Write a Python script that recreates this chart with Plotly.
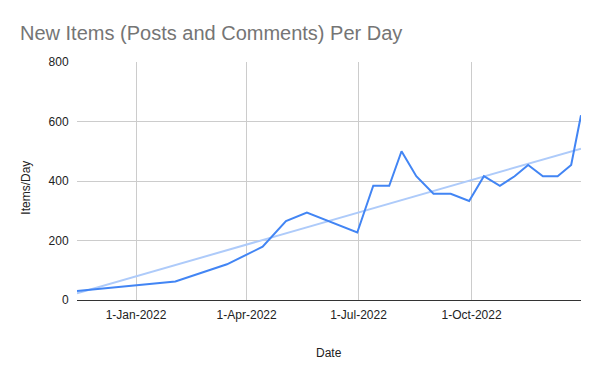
import numpy as np
import pandas as pd
import plotly.graph_objects as go

dates = ["2021-11-14", "2022-01-01", "2022-02-02", "2022-03-16", "2022-04-14",
         "2022-05-03", "2022-05-20", "2022-06-30", "2022-07-13", "2022-07-26",
         "2022-08-05", "2022-08-17", "2022-08-31", "2022-09-14", "2022-09-29",
         "2022-10-11", "2022-10-24", "2022-11-05", "2022-11-16", "2022-11-28",
         "2022-12-10", "2022-12-21", "2022-12-29"]
items_per_day = [30, 50, 62, 120, 179, 265, 294, 227, 384, 384,
                 500, 416, 357, 357, 333, 416, 384, 416, 454, 416,
                 416, 454, 621]
tick_dates = ["2022-01-01", "2022-04-01", "2022-07-01", "2022-10-01"]
y_ticks = [0, 200, 400, 600, 800]

title_text = "New Items (Posts and Comments) Per Day"
x_title = "Date"
y_title = "Items/Day"

dt = pd.to_datetime(dates)
days = (dt - dt[0]).days.values.astype(float)
slope, intercept = np.polyfit(days, np.array(items_per_day, dtype=float), 1)
trend_x = [dt[0], dt[-1]]
trend_y = [intercept, intercept + slope * days[-1]]

FONT = "Arial, 'Liberation Sans', sans-serif"

fig = go.Figure()
fig.add_trace(go.Scatter(x=trend_x, y=trend_y, mode="lines",
                         line=dict(color="#aecbfa", width=2),
                         hoverinfo="skip", showlegend=False))
fig.add_trace(go.Scatter(x=dt, y=items_per_day, mode="lines",
                         line=dict(color="#4285f4", width=2),
                         showlegend=False))

fig.update_layout(
    width=600, height=371,
    margin=dict(l=77, r=19, t=62, b=71),
    paper_bgcolor="white", plot_bgcolor="white",
    font=dict(family=FONT, size=12, color="#222222"),
    title=dict(text=title_text, x=20/600, xref="container", xanchor="left",
               y=1 - 33/371, yref="container", yanchor="middle",
               font=dict(family=FONT, size=20, color="#757575")),
    xaxis=dict(range=[dt[0], dt[-1]], tickvals=pd.to_datetime(tick_dates),
               tickformat="%-d-%b-%Y", showgrid=True, gridcolor="#cccccc",
               gridwidth=1, zeroline=False, showline=True, linecolor="#333333",
               linewidth=1, ticks="outside", ticklen=4, tickcolor="rgba(0,0,0,0)",
               tickfont=dict(size=12, color="#222222")),
    yaxis=dict(range=[0, 800], tickvals=y_ticks, showgrid=True,
               gridcolor="#cccccc", gridwidth=1, zeroline=False, showline=False,
               ticks="outside", ticklen=5, tickcolor="rgba(0,0,0,0)",
               tickfont=dict(size=12, color="#222222")),
    annotations=[
        dict(text=x_title, xref="paper", yref="paper", x=0.5, y=(300-353)/238,
             showarrow=False, xanchor="center", yanchor="middle",
             font=dict(size=12, color="#222222")),
        dict(text=y_title, xref="paper", yref="paper", x=(25.7-77)/504,
             y=(300-188)/238, showarrow=False, textangle=-90,
             xanchor="center", yanchor="middle",
             font=dict(size=12, color="#222222")),
    ],
)

fig.write_html("out.html", config={"displayModeBar": False},
               post_script="document.body.style.margin='0';document.body.style.overflow='hidden';")
